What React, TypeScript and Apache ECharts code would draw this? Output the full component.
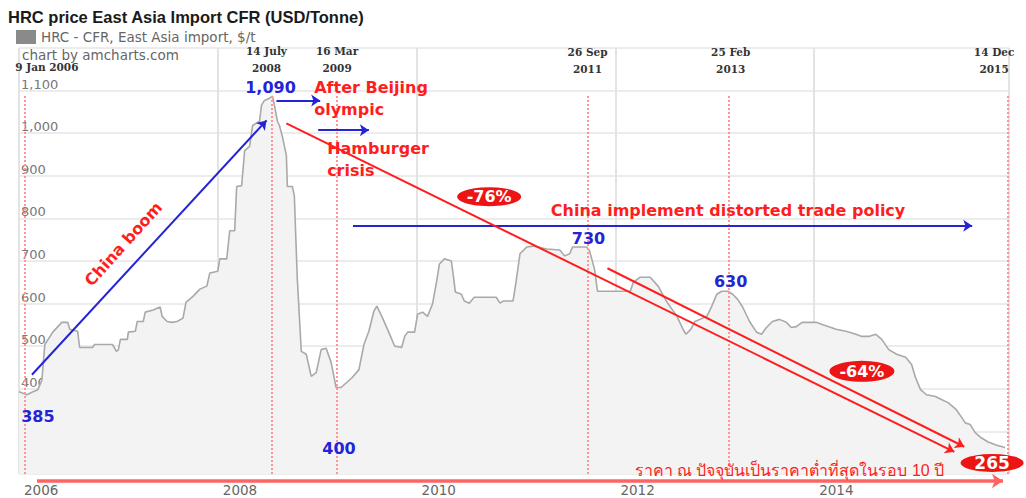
import React, { useEffect, useRef } from 'react';
import * as echarts from 'echarts';

// ---------- data ----------
const seriesName = 'HRC - CFR, East Asia import, $/t';
const titleText = 'HRC price East Asia Import CFR (USD/Tonne)';

// decimal years
const years = [
  2006.00, 2006.08, 2006.14, 2006.19, 2006.23, 2006.26, 2006.34, 2006.43, 2006.49, 2006.51,
  2006.59, 2006.61, 2006.74, 2006.76, 2006.94, 2006.98, 2007.00, 2007.02, 2007.09, 2007.10,
  2007.17, 2007.19, 2007.25, 2007.27, 2007.35, 2007.42, 2007.44, 2007.49, 2007.54, 2007.59,
  2007.65, 2007.68, 2007.75, 2007.82, 2007.89, 2007.92, 2008.00, 2008.02, 2008.09, 2008.12,
  2008.17, 2008.19, 2008.24, 2008.27, 2008.32, 2008.35, 2008.42, 2008.44, 2008.47, 2008.52,
  2008.55, 2008.57, 2008.60, 2008.62, 2008.65, 2008.69, 2008.70, 2008.75, 2008.77, 2008.79,
  2008.80, 2008.84, 2008.89, 2008.94, 2008.99, 2009.04, 2009.09, 2009.14, 2009.19, 2009.24,
  2009.35, 2009.42, 2009.47, 2009.52, 2009.57, 2009.60, 2009.65, 2009.72, 2009.78, 2009.85,
  2009.88, 2009.91, 2009.98, 2010.01, 2010.06, 2010.11, 2010.16, 2010.20, 2010.23, 2010.28,
  2010.35, 2010.37, 2010.39, 2010.45, 2010.48, 2010.53, 2010.58, 2010.80, 2010.84, 2010.87,
  2010.97, 2011.00, 2011.04, 2011.11, 2011.17, 2011.31, 2011.44, 2011.49, 2011.54, 2011.57,
  2011.71, 2011.74, 2011.79, 2011.82, 2011.98, 2012.15, 2012.18, 2012.25, 2012.35, 2012.43,
  2012.52, 2012.62, 2012.68, 2012.71, 2012.76, 2012.80, 2012.85, 2012.92, 2012.97, 2013.02,
  2013.07, 2013.13, 2013.18, 2013.23, 2013.28, 2013.35, 2013.42, 2013.47, 2013.52, 2013.58,
  2013.65, 2013.72, 2013.77, 2013.82, 2013.88, 2013.95, 2014.02, 2014.08, 2014.17, 2014.22,
  2014.32, 2014.42, 2014.48, 2014.55, 2014.62, 2014.68, 2014.75, 2014.83, 2014.92, 2014.98,
  2015.02, 2015.07, 2015.13, 2015.22, 2015.28, 2015.35, 2015.43, 2015.48, 2015.52, 2015.57,
  2015.62, 2015.68, 2015.75, 2015.83, 2015.92,
];

// USD per tonne
const prices = [
  393, 386, 393, 398, 420, 504, 533, 556, 556, 540,
  535, 497, 497, 504, 504, 488, 492, 516, 516, 533,
  535, 558, 558, 580, 585, 592, 570, 558, 556, 558,
  566, 603, 617, 634, 641, 672, 676, 705, 705, 771,
  771, 875, 877, 959, 969, 1018, 1028, 1066, 1077, 1082,
  1087, 1066, 1028, 1018, 992, 948, 875, 875, 853, 721,
  658, 488, 481, 429, 438, 492, 495, 462, 403, 403,
  426, 445, 504, 535, 582, 594, 570, 533, 500, 497,
  523, 533, 533, 575, 580, 570, 599, 650, 693, 705,
  700, 665, 627, 622, 606, 601, 615, 615, 601, 606,
  606, 650, 717, 733, 735, 728, 726, 712, 717, 733,
  733, 724, 681, 629, 629, 629, 650, 662, 662, 641,
  603, 570, 540, 528, 540, 558, 563, 570, 594, 622,
  629, 629, 622, 610, 592, 558, 533, 528, 544, 558,
  563, 556, 544, 546, 556, 556, 556, 551, 544, 540,
  535, 528, 523, 523, 528, 516, 492, 481, 474, 457,
  426, 398, 386, 382, 375, 367, 351, 334, 320, 316,
  297, 285, 275, 268, 262,
];

const yearTicks = [2006, 2008, 2010, 2012, 2014];

// event dates (dotted lines) and their captions
const eventYears = [2006.06, 2008.54, 2009.2, 2011.72, 2013.14, 2015.95];
const eventLabels = ['9 Jan 2006', '14 July\n2008', '16 Mar\n2009', '26 Sep\n2011', '25 Feb\n2013', '14 Dec\n2015'];
const eventLabelAt = [[2006.28, 1155], [2008.49, 1172], [2009.2, 1172], [2011.72, 1170], [2013.16, 1170], [2015.81, 1170]];

// price call-outs
const calloutTexts = ['385', '1,090', '400', '730', '630'];
const calloutAt = [[2006.19, 334], [2008.53, 1108], [2009.22, 259], [2011.73, 752], [2013.16, 653]];

// red annotation captions
const captionTexts = ['After Beijing\nolympic', 'Hamburger\ncrisis', 'China implement distorted trade policy'];
const captionAt = [[2008.97, 1082], [2009.1, 938], [2011.35, 818]];
const boomText = 'China boom';
const boomAt = [2007.05, 740];

// percentage badges
const badgeTexts = ['-76%', '-64%', '265'];
const badgeAt = [[2010.73, 851], [2014.48, 441], [2015.79, 226]];

const thaiText = 'ราคา ณ ปัจจุบันเป็นราคาต่ำที่สุดในรอบ 10 ปี';
const thaiAt = [2013.75, 209];

// arrows [from, to]
const blueArrows = [
  [[2006.13, 433], [2008.49, 1030]],
  [[2008.59, 1077], [2009.03, 1077]],
  [[2009.01, 1007], [2009.52, 1007]],
  [[2009.36, 783], [2015.59, 783]],
];
const redArrows = [
  [[2008.69, 1023], [2015.41, 252]],
  [[2011.92, 683], [2015.51, 264]],
];

// ---------- styles ----------
const RED = '#ff1e1e';
const BLUE = '#2424d6';
const ANN_FONT = 'DejaVu Sans';

const hidden = { symbol: 'rect', symbolSize: 1, itemStyle: { color: 'rgba(0,0,0,0)' } };

function note(coord: number[], text: string, label: any) {
  return {
    coord,
    ...hidden,
    label: { show: true, position: 'inside', formatter: text, ...label },
  };
}

function buildOption() {
  const lineData = years.map((y, i) => [y, prices[i]]);

  const points: any[] = [];
  eventLabels.forEach((t, i) =>
    points.push(note(eventLabelAt[i], t, {
      color: '#333', fontFamily: 'DejaVu Serif', fontWeight: 'bold', fontSize: 10.5, lineHeight: 17,
    }))
  );
  calloutTexts.forEach((t, i) =>
    points.push(note(calloutAt[i], t, { color: BLUE, fontFamily: ANN_FONT, fontWeight: 'bold', fontSize: 16 }))
  );
  captionTexts.forEach((t, i) =>
    points.push(note(captionAt[i], t, {
      color: RED, fontFamily: ANN_FONT, fontWeight: 'bold', fontSize: 16, lineHeight: 22, align: 'left',
    }))
  );
  points.push(note(boomAt, boomText, { color: RED, fontFamily: ANN_FONT, fontWeight: 'bold', fontSize: 16, rotate: 48 }));
  points.push(note(thaiAt, thaiText, { color: RED, fontSize: 16 }));
  const badgeSizes = [[64, 19], [65, 21], [63, 18]];
  badgeTexts.forEach((t, i) =>
    points.push({
      coord: badgeAt[i],
      symbol: 'circle',
      symbolSize: badgeSizes[i],
      itemStyle: { color: '#ec1414' },
      label: { show: true, position: 'inside', formatter: t, color: '#fff', fontFamily: ANN_FONT, fontWeight: 'bold', fontSize: i === 2 ? 17 : 16 },
    })
  );

  const seg = (a: number[][]) => [{ coord: a[0] }, { coord: a[1] }];

  return {
    animation: false,
    backgroundColor: '#fff',
    title: {
      text: titleText,
      left: 3,
      top: 3,
      textStyle: { fontFamily: 'Liberation Sans', fontWeight: 'bold', fontSize: 16.5, color: '#1a1a1a' },
    },
    legend: {
      data: [{ name: seriesName, itemStyle: { color: '#8a8a8a' } }],
      left: 11,
      top: 25,
      icon: 'rect',
      itemWidth: 20,
      itemHeight: 14,
      selectedMode: false,
      textStyle: { color: '#666', fontSize: 13.5, fontFamily: 'DejaVu Sans' },
    },
    graphic: [
      {
        type: 'text',
        left: 22,
        top: 48,
        style: { text: 'chart by amcharts.com', fill: '#666', font: '13.5px "DejaVu Sans"' },
      },
    ],
    grid: { left: 19, right: 17, top: 48, bottom: 24, containLabel: false },
    xAxis: {
      type: 'value',
      min: yearTicks[0],
      max: 2015.96,
      interval: 2,
      axisLine: { show: false },
      axisTick: { show: false },
      axisLabel: {
        color: '#666',
        fontSize: 13.5,
        fontFamily: 'DejaVu Sans',
        align: 'left',
        padding: [0, 0, 0, 5],
        margin: 9,
        showMaxLabel: false,
        formatter: (v: number) => (yearTicks.includes(v) ? String(v) : ''),
      },
      splitLine: { show: true, lineStyle: { color: '#e3e3e3', width: 2 } },
    },
    yAxis: {
      type: 'value',
      min: 200,
      max: 1200,
      interval: 100,
      axisLine: { show: false },
      axisTick: { show: false },
      axisLabel: {
        inside: true,
        margin: 2,
        color: '#777',
        fontSize: 13,
        fontFamily: 'DejaVu Sans',
        verticalAlign: 'bottom',
        showMaxLabel: false,
        formatter: (v: number) => v.toLocaleString('en-US'),
      },
      splitLine: { show: true, lineStyle: { color: '#ececec', width: 2 } },
    },
    series: [
      {
        name: seriesName,
        type: 'line',
        data: lineData,
        showSymbol: false,
        symbol: 'none',
        silent: true,
        itemStyle: { color: '#8a8a8a' },
        lineStyle: { color: '#a9a9a9', width: 1.6 },
        areaStyle: { color: '#f3f3f3', opacity: 1 },
        z: 2,
      },
      {
        name: 'events',
        type: 'line',
        data: [],
        markLine: {
          silent: true,
          symbol: 'none',
          label: { show: false },
          lineStyle: { color: '#ff9595', type: 'dotted', width: 2 },
          data: eventYears.map((x) => [{ coord: [x, 200] }, { coord: [x, 1090] }]),
        },
      },
      {
        name: 'blue arrows',
        type: 'line',
        data: [],
        markLine: {
          silent: true,
          symbol: ['none', 'arrow'],
          symbolSize: 9,
          label: { show: false },
          lineStyle: { color: BLUE, type: 'solid', width: 2 },
          data: blueArrows.map(seg),
        },
      },
      {
        name: 'red arrows',
        type: 'line',
        data: [],
        markLine: {
          silent: true,
          symbol: ['none', 'arrow'],
          symbolSize: 9,
          label: { show: false },
          lineStyle: { color: RED, type: 'solid', width: 2 },
          data: redArrows.map(seg),
        },
      },
      {
        name: 'timeline',
        type: 'line',
        data: [],
        markLine: {
          silent: true,
          symbol: ['none', 'arrow'],
          symbolSize: 11,
          label: { show: false },
          lineStyle: { color: '#ff6464', type: 'solid', width: 3.5 },
          data: [[{ x: 37, y: 481 }, { x: 1003, y: 481 }]],
        },
      },
      {
        name: 'notes',
        type: 'line',
        data: [],
        markPoint: { silent: true, data: points },
      },
    ],
  };
}

export default function App() {
  const ref = useRef<HTMLDivElement>(null);
  useEffect(() => {
    const chart = echarts.init(ref.current as HTMLDivElement, null, { renderer: 'svg' });
    chart.setOption(buildOption() as any);
    return () => chart.dispose();
  }, []);
  return (
    <div
      ref={ref}
      style={{ position: 'fixed', left: 0, top: 0, width: 1026, height: 498, background: '#fff' }}
    />
  );
}
